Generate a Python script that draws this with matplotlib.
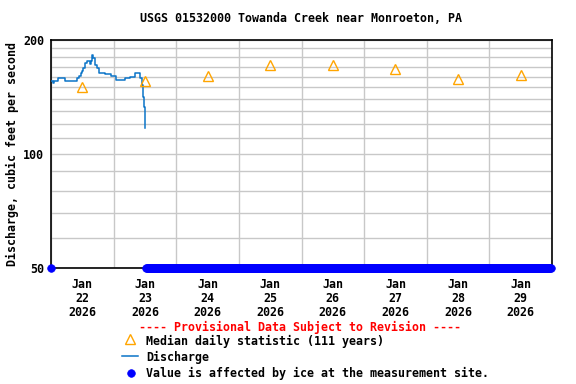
import numpy as np
import pandas as pd
import matplotlib
matplotlib.use("Agg")
import matplotlib.pyplot as plt
import matplotlib.dates as mdates
from matplotlib.lines import Line2D
from matplotlib.ticker import FixedLocator, NullFormatter

# ---- data ----
title = "USGS 01532000 Towanda Creek near Monroeton, PA"
start = pd.Timestamp("2026-01-22 00:00")
end = pd.Timestamp("2026-01-30 00:00")

# discharge, hours after Jan 22 00:00 and cfs
q_hours = [0.0, 0.7, 1.0, 2.8, 5.4, 9.8, 10.9, 11.4, 11.9, 12.4, 13.0, 13.9, 15.0,
           15.3, 15.8, 16.2, 16.9, 17.8, 18.5, 20.7, 22.9, 24.9, 28.4, 30.3, 32.2,
           33.9, 34.1, 34.8, 35.4, 35.8, 36.0, 36.2]
q_cfs = [156, 154, 156, 159, 156, 159, 161, 164, 166, 169, 174, 176.5, 173,
         176.5, 183, 179, 172, 168.5, 164, 162.5, 160.7, 157, 159.2, 160, 163.3,
         163.3, 158.5, 152, 141.7, 133.4, 125, 117]

# median daily statistic (111 years), one per day at noon
med_days = ["2026-01-22", "2026-01-23", "2026-01-24", "2026-01-25",
            "2026-01-26", "2026-01-27", "2026-01-28", "2026-01-29"]
med_cfs = [150, 156, 161, 172, 172, 168, 158, 162]

# ice-affected values (drawn at the bottom of the scale)
ice_single = ["2026-01-22 00:00"]
ice_run_start = "2026-01-23 12:30"
ice_run_end = "2026-01-29 23:30"

ymin, ymax = 50, 200

q_time = [start + pd.Timedelta(hours=h) for h in q_hours]
med_time = [pd.Timestamp(d) + pd.Timedelta(hours=12) for d in med_days]
ice_time = list(pd.to_datetime(ice_single)) + list(
    pd.date_range(ice_run_start, ice_run_end, freq="15min"))

mono = "DejaVu Sans Mono"
fs = 8.4
line_blue = "#0a74c8"
tri_orange = "#ffa500"
ice_blue = "#0000ff"

fig = plt.figure(figsize=(5.76, 3.84), dpi=100)
ax = fig.add_axes([51 / 576, 1 - 268 / 384, 501 / 576, 228 / 384])

ax.set_yscale("log")
ax.set_ylim(ymin, ymax)
ax.set_xlim(start, end)

ax.plot(q_time, q_cfs, color=line_blue, lw=1.1, drawstyle="steps-post", zorder=3)
ax.plot(med_time, med_cfs, linestyle="none", marker="^", markersize=7,
        markerfacecolor="none", markeredgecolor=tri_orange, markeredgewidth=1.0,
        zorder=4)
ax.plot(ice_time, [ymin] * len(ice_time), linestyle="none", marker="o",
        markersize=5.5, markeredgewidth=0.5, color=ice_blue, clip_on=False,
        zorder=5)

# y axis: labels at 50/100/200, grid every 10
ax.yaxis.set_major_locator(FixedLocator([50, 100, 200]))
ax.yaxis.set_major_formatter(plt.FuncFormatter(lambda v, p: f"{int(v)}"))
ax.yaxis.set_minor_locator(FixedLocator(list(range(60, 200, 10))))
ax.yaxis.set_minor_formatter(NullFormatter())

# x axis: labels at noon, grid at midnight
ax.xaxis.set_major_locator(mdates.HourLocator(byhour=[12]))
ax.xaxis.set_major_formatter(mdates.DateFormatter("%b\n%d\n%Y"))
ax.xaxis.set_minor_locator(mdates.DayLocator())

ax.grid(False)
ax.grid(True, which="minor", axis="x", color="#c8c8c8", lw=1.0)
ax.grid(True, which="both", axis="y", color="#c8c8c8", lw=1.0)
ax.set_axisbelow(True)

ax.tick_params(which="both", length=0)
ax.tick_params(axis="y", pad=5)
ax.tick_params(axis="x", pad=7)
for lab in ax.get_xticklabels() + ax.get_yticklabels():
    lab.set_fontfamily(mono)
    lab.set_fontweight("bold")
    lab.set_fontsize(fs)
for lab in ax.get_xticklabels():
    lab.set_linespacing(1.1)

for s in ax.spines.values():
    s.set_color("black")
    s.set_linewidth(1.2)

ax.set_ylabel("Discharge, cubic feet per second", fontfamily=mono,
              fontweight="bold", fontsize=fs, labelpad=3)
fig.text(301 / 576, 1 - 19 / 384, title, ha="center", va="center",
         fontfamily=mono, fontweight="bold", fontsize=fs)

# legend block under the chart
fig.text(300 / 576, 1 - 327 / 384, "---- Provisional Data Subject to Revision ----",
         ha="center", va="center", color="red", fontfamily=mono,
         fontweight="bold", fontsize=fs)
legend_rows = [
    ("Median daily statistic (111 years)", 341),
    ("Discharge", 357),
    ("Value is affected by ice at the measurement site.", 373),
]
for txt, yy in legend_rows:
    fig.text(146 / 576, 1 - yy / 384, txt, ha="left", va="center",
             fontfamily=mono, fontweight="bold", fontsize=fs)
fig.add_artist(Line2D([130 / 576], [1 - 339 / 384], marker="^", markersize=7,
                      markerfacecolor="none", markeredgecolor=tri_orange,
                      markeredgewidth=1.0, transform=fig.transFigure))
fig.add_artist(Line2D([122 / 576, 138 / 576], [1 - 356 / 384] * 2, color=line_blue,
                      lw=1.1, transform=fig.transFigure))
fig.add_artist(Line2D([131 / 576], [1 - 373 / 384], marker="o", markersize=5.5,
                      markeredgewidth=0.5, color=ice_blue,
                      transform=fig.transFigure))

fig.savefig("out.png", dpi=100)
